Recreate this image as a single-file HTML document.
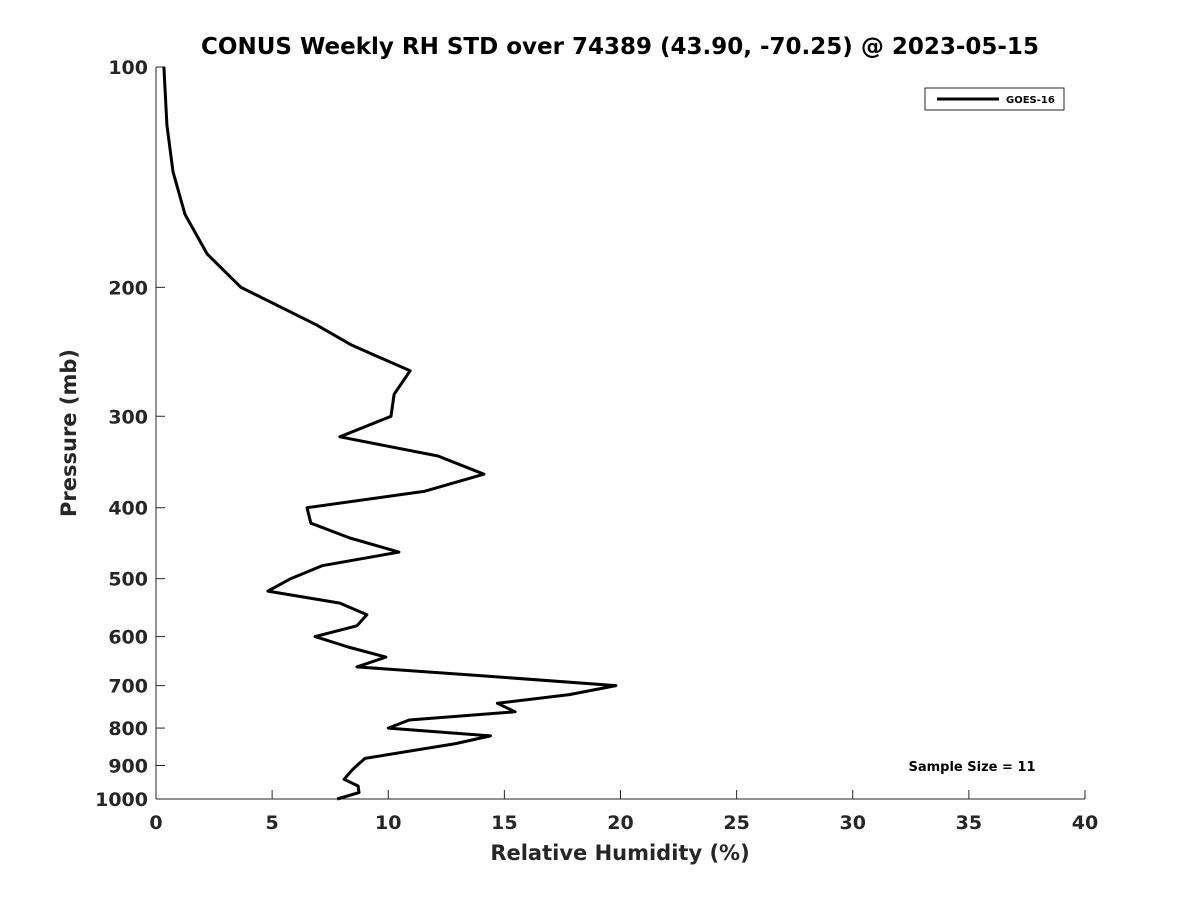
<!DOCTYPE html>
<html><head><meta charset="utf-8"><style>
body{margin:0;background:#fff;}
svg text{font-family:"DejaVu Sans","Liberation Sans",sans-serif;font-weight:bold;fill:#262626;}
</style></head><body>
<svg id="chart" width="1200" height="900" xmlns="http://www.w3.org/2000/svg">
<rect width="1200" height="900" fill="#fff"/>
<text x="620" y="54" text-anchor="middle" font-size="23" style="fill:#000">CONUS Weekly RH STD over 74389 (43.90, -70.25) @ 2023-05-15</text>
<g id="axes"></g>
<g id="series"></g>
<text x="620" y="860" text-anchor="middle" font-size="21">Relative Humidity (%)</text>
<text transform="translate(76,433) rotate(-90)" text-anchor="middle" font-size="21">Pressure (mb)</text>
<g>
<rect x="925" y="88" width="139" height="22" fill="#fff" stroke="#262626" stroke-width="1"/>
<line x1="937" y1="99" x2="999" y2="99" stroke="#000" stroke-width="3"/>
<text x="1006" y="103" font-size="10" style="fill:#000">GOES-16</text>
</g>
<text x="972" y="771" text-anchor="middle" font-size="13" style="fill:#000">Sample Size = 11</text>
</svg>
<script>
const xTicks=[0,5,10,15,20,25,30,35,40];
const yTicks=[100,200,300,400,500,600,700,800,900,1000];
const rhValues=[0.34,0.47,0.73,1.25,2.2,3.66,6.9,8.44,10.94,10.25,10.12,7.92,12.14,14.12,11.54,6.5,6.67,8.35,10.46,7.15,5.81,4.82,7.92,9.08,8.65,6.85,8.27,9.9,8.65,14.4,19.8,17.8,14.7,15.46,10.9,10.0,14.4,12.9,9.0,8.65,8.44,8.1,8.7,8.74,7.8];
const pressures=[100,120,139,159,180,200,225,240,260,280,300,320,340,360,380,400,420,440,460,480,500,520,540,560,580,600,620,640,660,680,700,720,740,760,780,800,820,840,880,900,913,940,960,980,1000];
const NS="http://www.w3.org/2000/svg";
const x0=156,x1=1085,y0=67,y1=799;
function xs(v){return x0+(v-0)/(40-0)*(x1-x0);}
function ys(p){return y0+(Math.log10(p)-2)/(3-2)*(y1-y0);}
const axes=document.getElementById('axes');
function mk(t,a,parent){const e=document.createElementNS(NS,t);for(const k in a)e.setAttribute(k,a[k]);parent.appendChild(e);return e;}
const xl=mk('line',{x1:x0,y1:y1,x2:x1,y2:y1,stroke:'#262626','stroke-width':1},axes);


const yl=mk('line',{x1:x0,y1:y0,x2:x0,y2:y1,stroke:'#262626','stroke-width':1},axes);


xTicks.forEach(v=>{
 const X=xs(v);
 const tk=mk('line',{x1:X,y1:y1,x2:X,y2:y1-9,stroke:'#262626','stroke-width':1},axes);
 
 
 const t=mk('text',{x:X,y:y1+30,'text-anchor':'middle','font-size':19},axes);
 t.textContent=v;
 
 
});
yTicks.forEach(p=>{
 const Y=ys(p);
 const tk=mk('line',{x1:x0,y1:Y,x2:x0+9,y2:Y,stroke:'#262626','stroke-width':1},axes);
 
 
 const t=mk('text',{x:x0-8,y:Y+7,'text-anchor':'end','font-size':19},axes);
 t.textContent=p;
 
 
});
const pts=rhValues.map((v,i)=>xs(v).toFixed(1)+','+ys(pressures[i]).toFixed(1)).join(' ');
const pl=mk('polyline',{points:pts,fill:'none',stroke:'#000','stroke-width':3,'stroke-linejoin':'round'},document.getElementById('series'));


</script>
</body></html>
